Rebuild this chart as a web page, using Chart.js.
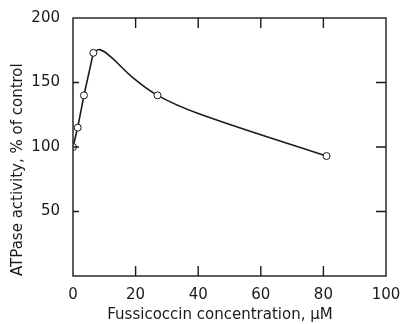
<!DOCTYPE html>
<html>
<head>
<meta charset="utf-8">
<script src="https://cdn.jsdelivr.net/npm/chart.js@4"></script>
<style>
  html, body { margin: 0; padding: 0; background: #fff; }
  #wrap { width: 405px; height: 324px; }
</style>
</head>
<body>
<div id="wrap"><canvas id="myChart"></canvas></div>
<script>
// measured points (circles)
const concX = [0, 1.5, 3.5, 6.5, 27, 81];
const activityY = [100, 115, 140, 173, 140, 93];
// smooth curve drawn through the data
const curveX = [6.5, 8.5, 12, 19, 27, 40, 81];
const curveY = [173, 175.5, 170, 154, 140, 126, 93];
const xTicks = [0, 20, 40, 60, 80, 100];
const yTicks = [50, 100, 150, 200];

const ink = "#1a1a1a";
const tickFont = { family: "DejaVu Sans", size: 15 };
const titleFont = { family: "DejaVu Sans", size: 15 };

const toPoints = (xs, ys) => xs.map((x, i) => ({ x, y: ys[i] }));

// frame with inward ticks, like the printed figure
const frameTicks = {
    id: "frameTicks",
    afterDatasetsDraw(chart) {
        const { ctx, chartArea: a, scales: { x, y } } = chart;
        ctx.save();
        ctx.strokeStyle = ink;
        ctx.lineWidth = 1.4;
        ctx.strokeRect(a.left, a.top, a.right - a.left, a.bottom - a.top);
        ctx.beginPath();
        xTicks.slice(1, -1).forEach((v) => {
            const px = x.getPixelForValue(v);
            ctx.moveTo(px, a.bottom); ctx.lineTo(px, a.bottom - 10);
            ctx.moveTo(px, a.top); ctx.lineTo(px, a.top + 10);
        });
        yTicks.slice(0, -1).forEach((v) => {
            const py = y.getPixelForValue(v);
            ctx.moveTo(a.left, py); ctx.lineTo(a.left + 6, py);
            ctx.moveTo(a.right, py); ctx.lineTo(a.right - 10, py);
        });
        ctx.stroke();
        ctx.restore();
    },
};

const config = {
    type: "scatter",
    data: {
        datasets: [
            {
                label: "measured",
                data: toPoints(concX, activityY),
                showLine: false,
                pointRadius: 3.5,
                pointBorderWidth: 1,
                pointBackgroundColor: "#fff",
                pointBorderColor: ink,
            },
            {
                label: "rise",
                data: toPoints(concX.slice(0, 4), activityY.slice(0, 4)),
                showLine: true,
                borderColor: ink,
                borderWidth: 1.6,
                pointRadius: 0,
                tension: 0,
            },
            {
                label: "curve",
                data: toPoints(curveX, curveY),
                showLine: true,
                borderColor: ink,
                borderWidth: 1.6,
                pointRadius: 0,
                tension: 0.4,
            },
        ],
    },
    options: {
        responsive: true,
        maintainAspectRatio: false,
        animation: false,
        layout: { padding: { top: 18, right: 19, left: 0, bottom: 0 } },
        plugins: { legend: { display: false }, tooltip: { enabled: false } },
        scales: {
            x: {
                type: "linear",
                min: 0,
                max: 100,
                afterBuildTicks: (s) => { s.ticks = xTicks.map((value) => ({ value })); },
                afterFit: (s) => { s.height = 48; },
                grid: { display: false },
                border: { display: false },
                ticks: { color: ink, font: tickFont, padding: 2, maxRotation: 0 },
                title: {
                    display: true,
                    text: "Fussicoccin concentration, \u03bcM\u00a0\u00a0\u00a0\u00a0",
                    color: ink,
                    font: titleFont,
                    padding: { top: 0, bottom: 0 },
                },
            },
            y: {
                type: "linear",
                min: 0,
                max: 200,
                afterBuildTicks: (s) => { s.ticks = yTicks.map((value) => ({ value })); },
                afterFit: (s) => { s.width = 73; },
                grid: { display: false },
                border: { display: false },
                ticks: { color: ink, font: tickFont, padding: 5 },
                title: {
                    display: true,
                    text: "ATPase activity, % of control",
                    color: ink,
                    font: titleFont,
                    align: "start",
                    padding: { top: 9, bottom: 0 },
                },
            },
        },
    },
    plugins: [frameTicks],
};

const myChart = new Chart(document.getElementById("myChart"), config);
</script>
</body>
</html>
